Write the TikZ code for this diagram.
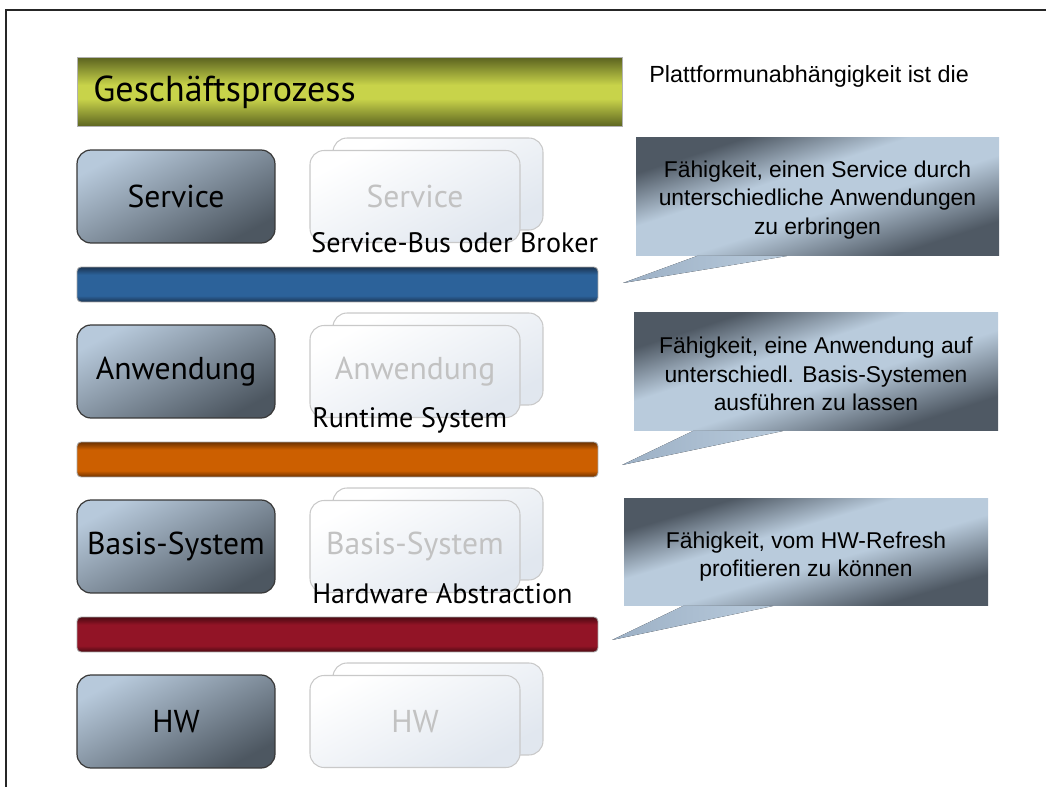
\documentclass[tikz,border=0pt]{standalone}
\usepackage{fontspec}
\setmainfont{PT Sans}
\newfontfamily\calloutfont{Liberation Sans}
\usetikzlibrary{calc}

% colours
\definecolor{slatelight}{HTML}{B7C9DB}
\definecolor{slatedark}{HTML}{4D5761}
\definecolor{ghostedge}{HTML}{C9C9C9}
\definecolor{ghostfill}{HTML}{E1E7EF}
\definecolor{ghosttext}{HTML}{C2C2C2}
\definecolor{bluedk}{HTML}{1B3452}
\definecolor{bluemd}{HTML}{2C629A}
\definecolor{orangedk}{HTML}{6C3100}
\definecolor{orangemd}{HTML}{CC5F00}
\definecolor{reddk}{HTML}{4C0A12}
\definecolor{redmd}{HTML}{921426}
\definecolor{greendk}{HTML}{5C6420}
\definecolor{greenmd}{HTML}{C8D34A}
\definecolor{calloutdk}{HTML}{4F5964}
\definecolor{calloutlt}{HTML}{B9CBDC}
\definecolor{tailtip}{HTML}{9CB0C5}

% horizontal bars: dark rims, bright plateau
\pgfdeclareverticalshading{barblue}{100bp}{color(0bp)=(bluedk); color(25bp)=(bluedk); color(34bp)=(bluemd); color(64bp)=(bluemd); color(75bp)=(bluedk); color(100bp)=(bluedk)}
\pgfdeclareverticalshading{barorange}{100bp}{color(0bp)=(orangedk); color(25bp)=(orangedk); color(34bp)=(orangemd); color(64bp)=(orangemd); color(75bp)=(orangedk); color(100bp)=(orangedk)}
\pgfdeclareverticalshading{barred}{100bp}{color(0bp)=(reddk); color(25bp)=(reddk); color(34bp)=(redmd); color(64bp)=(redmd); color(75bp)=(reddk); color(100bp)=(reddk)}
\pgfdeclareverticalshading{bargreen}{100bp}{color(0bp)=(greendk); color(25bp)=(greendk); color(45bp)=(greenmd); color(55bp)=(greenmd); color(75bp)=(greendk); color(100bp)=(greendk)}
% callout fill: dark corners, broad light band (used on a square, stretched)
\pgfdeclareverticalshading{calloutfill}{100bp}{color(0bp)=(calloutdk); color(25bp)=(calloutdk); color(45bp)=(calloutlt); color(59bp)=(calloutlt); color(75bp)=(calloutdk); color(100bp)=(calloutdk)}

\tikzset{
  layerbox/.style={rectangle, rounded corners=0.28cm, draw=black!78, line width=0.7pt,
    minimum width=3.96cm, minimum height=1.86cm, inner sep=0pt,
    top color=slatelight, bottom color=slatedark, shading angle=28,
    font=\fontsize{18}{20}\selectfont, text=black},
  ghostbox/.style={rectangle, rounded corners=0.28cm, draw=ghostedge, line width=0.6pt,
    minimum width=4.2cm, minimum height=1.84cm, inner sep=0pt,
    top color=white, bottom color=ghostfill, shading angle=28,
    font=\fontsize{18}{20}\selectfont, text=ghosttext},
  busbar/.style={rectangle, rounded corners=0.08cm, draw=black!35, line width=0.5pt,
    minimum width=10.42cm, minimum height=0.7cm, inner sep=0pt},
  buslabel/.style={anchor=base west, inner sep=0pt, font=\fontsize{16}{18}\selectfont},
  callout/.style={rectangle, inner sep=0pt, align=center,
    font=\calloutfont\fontsize{13}{16.2}\selectfont},
  callouttail/.style={left color=tailtip, right color=calloutlt},
}

% shaded callout body: a square with a 45-degree shading, stretched to #2 x #3 px
\newcommand\calloutbody[3]{%
  \begin{scope}[transform canvas={shift={(#1)}, xscale=#2/#3}]
    \shade[shading=calloutfill, shading angle=45] (-#3/2,-#3/2) rectangle (#3/2,#3/2);
  \end{scope}}

\begin{document}
\begin{tikzpicture}[x=0.02cm, y=-0.02cm]
  \useasboundingbox (0,0) rectangle (1046,787);

  % slide frame
  \draw[line width=0.8pt, black!85] (1046,10) -- (6,10) -- (6,787);

  % business process bar
  \node[rectangle, anchor=north west, draw=black!30, line width=0.5pt, shading=bargreen,
        minimum width=10.9cm, minimum height=1.38cm, inner xsep=0.32cm,
        text width=10.26cm, align=left, font=\fontsize{20.5}{22}\selectfont]
        (gp) at (77,57) {Geschäftsprozess};

  % layer stacks
  \foreach \name/\txt/\k in {svc/Service/0, anw/Anwendung/1, bas/Basis-System/2, hw/HW/3} {
    \node[ghostbox] (\name-back) at (438,184+175*\k) {};
    \node[ghostbox] (\name-alt) at (415,196.5+175*\k) {\txt};
    \node[layerbox] (\name) at (176,196.5+175*\k) {\txt};
  }

  % bus bars with their labels
  \node[busbar, shading=barblue] (busbar) at (337.5,284.5) {};
  \node[busbar, shading=barorange] (rtbar) at (337.5,459.5) {};
  \node[busbar, shading=barred] (hwbar) at (337.5,634.5) {};
  \node[buslabel] (buslbl) at (311,253) {Service-Bus oder Broker};
  \node[buslabel] (rtlbl) at (312,428) {Runtime System};
  \node[buslabel] (hwlbl) at (312,603) {Hardware Abstraction};

  % explanation
  \node[anchor=base west, inner sep=0pt, font=\calloutfont\fontsize{13.3}{16}\selectfont]
       (intro) at (649,83) {Plattformunabhängigkeit ist die};

  % callouts: body, tail, text
  \coordinate (co1c) at (817.5,197);
  \calloutbody{co1c}{363}{118}
  \coordinate (co1tip) at (623,283);
  \fill[callouttail] ($(co1c)+(-120.5,59)$) -- (co1tip) -- ($(co1c)+(-30.5,59)$) -- cycle;
  \node[callout] (co1) at ($(co1c)+(0,3)$)
       {Fähigkeit, einen Service durch\\unterschiedliche Anwendungen\\zu erbringen};

  \coordinate (co2c) at (816,372);
  \calloutbody{co2c}{364}{118}
  \coordinate (co2tip) at (622,465);
  \fill[callouttail] ($(co2c)+(-123,59)$) -- (co2tip) -- ($(co2c)+(-33,59)$) -- cycle;
  \node[callout] (co2) at ($(co2c)+(0,2)$)
       {Fähigkeit, eine Anwendung auf\\unterschiedl. Basis-Systemen\\ausführen zu lassen};

  \coordinate (co3c) at (806,552.5);
  \calloutbody{co3c}{364}{107}
  \coordinate (co3tip) at (612,640);
  \fill[callouttail] ($(co3c)+(-123,53.5)$) -- (co3tip) -- ($(co3c)+(-33,53.5)$) -- cycle;
  \node[callout] (co3) at ($(co3c)+(0,4)$)
       {Fähigkeit, vom HW-Refresh\\profitieren zu können};
\end{tikzpicture}
\end{document}
